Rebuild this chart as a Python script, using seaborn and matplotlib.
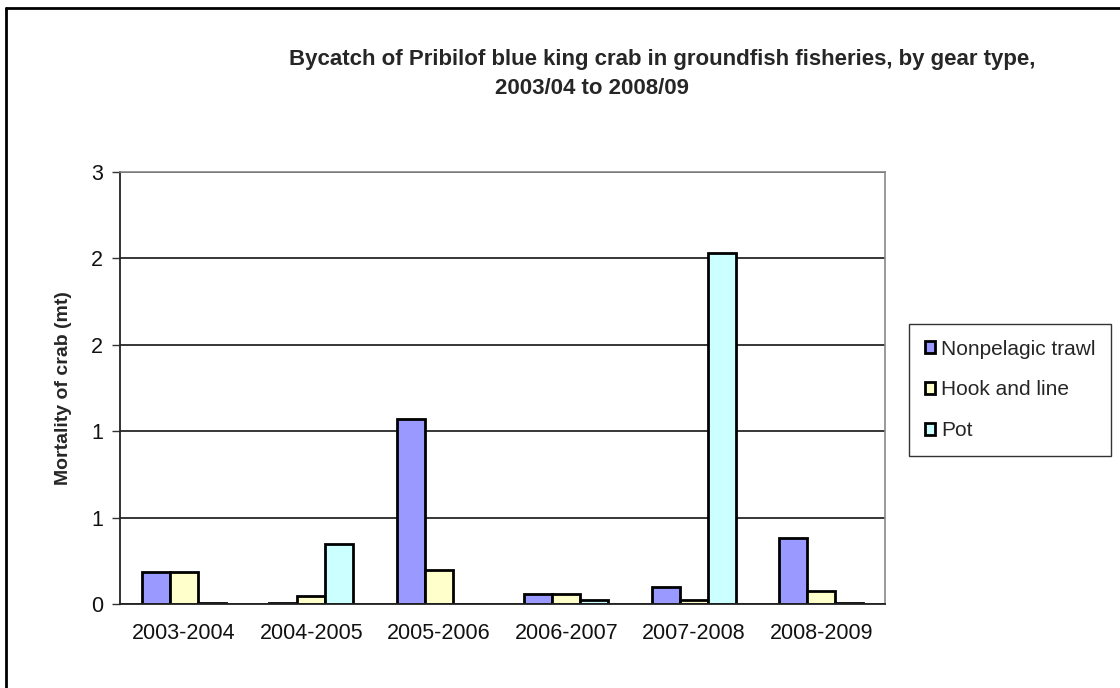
"""
Bycatch of Pribilof blue king crab in groundfish fisheries, by gear type
Grouped bar chart, Excel-style look
"""

import pandas as pd
import matplotlib
matplotlib.use("Agg")
import matplotlib.pyplot as plt
import matplotlib.patches as mpatches
from matplotlib.ticker import StrMethodFormatter, FixedLocator
from matplotlib.lines import Line2D
import seaborn as sns

# ── Data ───────────────────────────────────────────────────────────────────
seasons = ["2003-2004", "2004-2005", "2005-2006", "2006-2007", "2007-2008", "2008-2009"]
gears = ["Nonpelagic trawl", "Hook and line", "Pot"]
trawl = [0.225, 0.005, 1.287, 0.067, 0.120, 0.455]
hook_line = [0.225, 0.056, 0.234, 0.067, 0.028, 0.093]
pot = [0.005, 0.417, 0.0, 0.030, 2.440, 0.005]
y_ticks = [0, 0.6, 1.2, 1.8, 2.4, 3.0]

df = pd.DataFrame({
    "season": seasons * 3,
    "gear": [g for g in gears for _ in seasons],
    "value": trawl + hook_line + pot,
})

# ── Palette ────────────────────────────────────────────────────────────────
C_TRAWL = "#9999FF"
C_HOOK = "#FFFFCC"
C_POT = "#CCFFFF"
PALETTE = {"Nonpelagic trawl": C_TRAWL, "Hook and line": C_HOOK, "Pot": C_POT}

sns.set_style("white")
plt.rcParams["font.family"] = ["Liberation Sans", "DejaVu Sans"]

# ── Figure ─────────────────────────────────────────────────────────────────
W, H = 1120, 688
fig = plt.figure(figsize=(W / 100, H / 100), dpi=100)
fig.patch.set_facecolor("white")
ax = fig.add_axes([120 / W, 1 - 604 / H, 765 / W, 432 / H])

sns.barplot(
    data=df, x="season", y="value", hue="gear",
    order=seasons, hue_order=gears, palette=PALETTE,
    width=0.66, gap=0, edgecolor="black", linewidth=2.0,
    saturation=1, legend=False, ax=ax,
)

# axes
ax.set_xlim(-0.5, len(seasons) - 0.5)
ax.set_ylim(0, 3)
ax.yaxis.set_major_locator(FixedLocator(y_ticks))
ax.yaxis.set_major_formatter(StrMethodFormatter("{x:.0f}"))
ax.set_axisbelow(True)
ax.yaxis.grid(True, color="black", linewidth=1.1)
ax.xaxis.grid(False)

ax.set_xlabel("")
ax.set_ylabel("Mortality of crab (mt)", fontsize=14, fontweight="bold", labelpad=14)

# x ticks: labels centred, tick marks between groups
ax.set_xticks(range(len(seasons)))
ax.set_xticklabels(seasons)
ax.set_xticks([i - 0.5 for i in range(len(seasons) + 1)], minor=True)
ax.tick_params(axis="x", which="major", length=0, pad=14, labelsize=15.5, colors="#111111")
ax.tick_params(axis="x", which="minor", direction="out", length=7, width=1.0, color="#333333")
ax.tick_params(axis="y", direction="out", length=6, width=1.0, color="#333333",
               pad=6, labelsize=15.5, labelcolor="#111111", left=True)

for side in ["top", "right"]:
    ax.spines[side].set_color("#888888")
    ax.spines[side].set_linewidth(1.2)
ax.spines["left"].set_color("#222222")
ax.spines["bottom"].set_color("#222222")
ax.spines["left"].set_linewidth(1.3)
ax.spines["bottom"].set_linewidth(1.3)

# ── Legend ─────────────────────────────────────────────────────────────────
handles = [mpatches.Patch(facecolor=PALETTE[g], edgecolor="black", linewidth=2.0, label=g)
           for g in gears]
leg = fig.legend(
    handles=handles, loc="upper left",
    bbox_to_anchor=(909 / W, 1 - 324 / H), borderaxespad=0,
    fontsize=15, frameon=True, fancybox=False,
    handlelength=0.5, handleheight=0.5, handletextpad=0.3,
    labelspacing=1.05, borderpad=0.75,
)
leg.get_frame().set_edgecolor("black")
leg.get_frame().set_linewidth(1.0)

# ── Title ──────────────────────────────────────────────────────────────────
fig.text(662 / W, 1 - 60 / H,
         "Bycatch of Pribilof blue king crab in groundfish fisheries, by gear type,",
         ha="center", va="center", fontsize=16, fontweight="bold")
fig.text(592 / W, 1 - 88 / H, "2003/04 to 2008/09",
         ha="center", va="center", fontsize=16, fontweight="bold")

# ── Outer frame (left and top edges) ───────────────────────────────────────
fig.add_artist(Line2D([6 / W, 6 / W], [0, 1 - 8 / H], transform=fig.transFigure,
                      color="black", linewidth=2.0))
fig.add_artist(Line2D([6 / W, 1], [1 - 8 / H, 1 - 8 / H], transform=fig.transFigure,
                      color="black", linewidth=2.0))

fig.savefig("out.png", dpi=100, facecolor="white")
print("Saved: out.png")
